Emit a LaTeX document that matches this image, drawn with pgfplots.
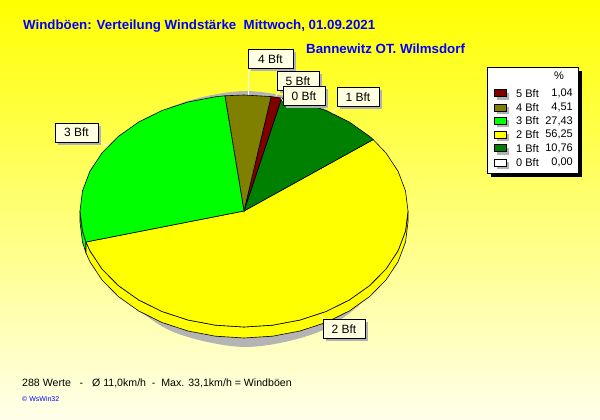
\documentclass[border=0pt]{standalone}
\usepackage{fontspec}
\setmainfont{Liberation Sans}
\usepackage{pgfplots}
\pgfplotsset{compat=1.18}
\usetikzlibrary{shadows}
\definecolor{c5}{RGB}{128,0,0}
\definecolor{c4}{RGB}{128,128,0}
\definecolor{c3}{RGB}{0,255,0}
\definecolor{c2}{RGB}{255,255,0}
\definecolor{c1}{RGB}{0,128,0}
\definecolor{lab}{RGB}{255,255,225}
\definecolor{shad}{RGB}{180,180,180}
\definecolor{bgtop}{RGB}{255,255,0}
\definecolor{bgbot}{RGB}{255,255,235}
\definecolor{tblue}{RGB}{0,0,255}
\tikzset{lbl/.style={draw=black, fill=lab, font=\fontsize{12}{14}\selectfont, inner sep=0pt,
    minimum width=42pt, minimum height=19pt, line width=0.6pt,
    drop shadow={opacity=1, fill=black!30, shadow xshift=3pt, shadow yshift=-3pt}},
  pie/.style={draw=black, line width=0.6pt},
  sw/.style={draw=black, fill=#1, line width=0.6pt, minimum width=12pt, minimum height=7pt, inner sep=0pt,
    drop shadow={opacity=1, fill=black!30, shadow xshift=3pt, shadow yshift=-3pt}},
  lt/.style={anchor=west, inner sep=0pt},
  lv/.style={anchor=east, inner sep=0pt}}
\begin{document}
\begin{tikzpicture}
\useasboundingbox (0,0) rectangle (600pt,420pt);
\begin{axis}[at={(0,0)}, anchor=south west, scale only axis, width=600pt, height=420pt,
  xmin=0, xmax=600, ymin=0, ymax=420, hide axis, clip=false]
% background
\fill[top color=bgtop, bottom color=bgbot] (0,0) rectangle (600,420);
% shadow of the pie
\addplot[fill=shad, draw=none, smooth cycle] coordinates {
 (401,201) (380.2,265) (323.5,311.8) (246,329) (168.5,311.8) (111.8,265)
 (91,201) (111.8,137) (168.5,90.2) (246,73) (323.5,90.2) (380.2,137)};
% side of 3 Bft
\addplot[pie, fill=c3] coordinates {
 (80,209) (82.5,188.9) (86,178) (86,167) (82.5,177.9) (80,198)} -- cycle;
% side of 2 Bft
\addplot[pie, fill=c2] coordinates {
 (86,178) (89.9,169.3) (102,151) (118.4,134.4) (138.6,120.1) (162,108.5) (187.9,100)
 (215.5,94.8) (244,93) (272.5,94.8) (300.1,100) (326,108.5) (349.4,120.1) (369.6,134.4)
 (386,151) (398.1,169.3) (405.5,188.9) (408,209)
 (408,198) (405.5,177.9) (398.1,158.3) (386,140) (369.6,123.4) (349.4,109.1) (326,97.5)
 (300.1,89) (272.5,83.8) (244,82) (215.5,83.8) (187.9,89) (162,97.5) (138.6,109.1)
 (118.4,123.4) (102,140) (89.9,158.3) (86,167)} -- cycle;
% 2 Bft 56,25
\addplot[pie, fill=c2] coordinates {
 (244,209) (86,178) (89.9,169.3) (102,151) (118.4,134.4) (138.6,120.1) (162,108.5)
 (187.9,100) (215.5,94.8) (244,93) (272.5,94.8) (300.1,100) (326,108.5) (349.4,120.1)
 (369.6,134.4) (386,151) (398.1,169.3) (405.5,188.9) (408,209) (405.5,229.1)
 (398.1,248.7) (386,267) (373.2,280.4)} -- cycle;
% 1 Bft 10,76
\addplot[pie, fill=c1] coordinates {
 (244,209) (373.2,280.4) (369.6,283.6) (349.4,297.9) (326,309.5) (300.1,318) (281.7,321.9)} -- cycle;
% 5 Bft 1,04
\addplot[pie, fill=c5] coordinates {
 (244,209) (281.7,321.9) (271.1,323.4)} -- cycle;
% 4 Bft 4,51
\addplot[pie, fill=c4] coordinates {
 (244,209) (271.1,323.4) (244,325) (224.9,324.2)} -- cycle;
% 3 Bft 27,43
\addplot[pie, fill=c3] coordinates {
 (244,209) (224.9,324.2) (215.5,323.2) (187.9,318) (162,309.5) (138.6,297.9) (118.4,283.6)
 (102,267) (89.9,248.7) (82.5,229.1) (80,209) (82.5,188.9) (86,178)} -- cycle;
% leader lines
\draw[white, line width=0.8pt] (248,351) -- (248,325);
\draw[white, line width=0.8pt] (276,324) -- (279,329);
\draw[white, line width=0.8pt] (281,322) -- (284,318);
\draw[white, line width=0.8pt] (332,307) -- (338,313);
\draw[white, line width=0.8pt] (102,277) -- (108,274);
\draw[white, line width=0.8pt] (320,105) -- (326,99);
% labels
\node[lbl, minimum width=45pt] at (270.5,361) {4 Bft};
\node[lbl] at (298,339) {5 Bft};
\node[lbl] at (304,324) {0 Bft};
\node[lbl] at (358,323) {1 Bft};
\node[lbl, minimum width=43pt] at (76.5,287.5) {3 Bft};
\node[lbl] at (344,91) {2 Bft};
% legend
\fill[black] (491,243) rectangle (582,349);
\draw[black, fill=white, line width=0.6pt] (487,247) rectangle (578,353);
\begin{scope}[font=\fontsize{11}{13}\selectfont]
\node at (559,344) {\%};
\node[sw=c5] at (500,326.7) {}; \node[lt] at (516,326.7) {5 Bft}; \node[lv] at (573,326.7) {1,04};
\node[sw=c4] at (500,312.3) {}; \node[lt] at (516,312.3) {4 Bft}; \node[lv] at (573,312.3) {4,51};
\node[sw=c3] at (500,299) {}; \node[lt] at (516,299) {3 Bft}; \node[lv] at (573,299) {27,43};
\node[sw=c2] at (500,285.3) {}; \node[lt] at (516,285.3) {2 Bft}; \node[lv] at (573,285.3) {56,25};
\node[sw=c1] at (500,271.7) {}; \node[lt] at (516,271.7) {1 Bft}; \node[lv] at (573,271.7) {10,76};
\node[sw=white] at (500,257.3) {}; \node[lt] at (516,257.3) {0 Bft}; \node[lv] at (573,257.3) {0,00};
\end{scope}
% titles
\node[anchor=base west, inner sep=0pt, text=tblue, font=\bfseries\fontsize{13.3}{15}\selectfont] at (23,390) {Windböen: Verteilung Windstärke\ \ Mittwoch, 01.09.2021};
\node[anchor=base west, inner sep=0pt, text=tblue, font=\bfseries\fontsize{13.3}{15}\selectfont] at (306,366.7) {Bannewitz OT. Wilmsdorf};
\node[anchor=base west, inner sep=0pt, font=\fontsize{10.6}{13}\selectfont] at (22,33.3) {288 Werte\ \ \ -\ \ \ Ø 11,0km/h\ \ -\ \ Max. 33,1km/h = Windböen};
\node[anchor=base west, inner sep=0pt, text=tblue, font=\fontsize{7}{8}\selectfont] at (22,18.3) {© WsWin32};
\end{axis}
\end{tikzpicture}
\end{document}
